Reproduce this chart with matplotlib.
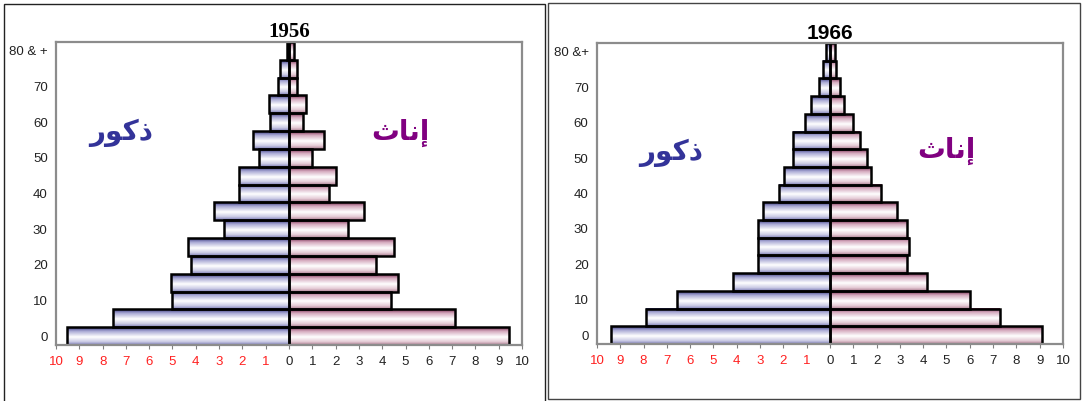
import numpy as np
import matplotlib.pyplot as plt
from matplotlib.colors import LinearSegmentedColormap
from matplotlib.patches import Rectangle

plt.rcParams['font.family'] = ['Liberation Sans', 'DejaVu Sans']

# age groups 0-4 ... 75-79, 80+ (percent of population)
age_groups = list(range(17))
age_ticks = [0, 2, 4, 6, 8, 10, 12, 14, 16]
age_labels_1956 = ['0', '10', '20', '30', '40', '50', '60', '70', '80 & +']
age_labels_1966 = ['0', '10', '20', '30', '40', '50', '60', '70', '80 &+']

males_1956 = [9.52, 7.54, 5.03, 5.06, 4.21, 4.33, 2.80, 3.22, 2.13,
              2.13, 1.30, 1.55, 0.80, 0.86, 0.46, 0.37, 0.10]
females_1956 = [9.44, 7.12, 4.38, 4.68, 3.75, 4.50, 2.53, 3.22, 1.71,
                2.03, 1.00, 1.50, 0.60, 0.74, 0.36, 0.33, 0.20]
males_1966 = [9.40, 7.88, 6.57, 4.16, 3.07, 3.07, 3.07, 2.88, 2.18,
              1.97, 1.57, 1.60, 1.07, 0.81, 0.49, 0.29, 0.19]
females_1966 = [9.09, 7.29, 6.01, 4.18, 3.29, 3.40, 3.29, 2.88, 2.19,
                1.75, 1.57, 1.28, 1.01, 0.60, 0.41, 0.25, 0.22]

x_ticks = list(range(-10, 11))

# arabic labels written in presentation forms (visual order)
male_label = '\uFEAD\uFEEE\uFEDB\uFEAB'     # ذكور
female_label = '\uFE99\uFE8E\uFEE7\uFE87'   # إناث

male_cmap = LinearSegmentedColormap.from_list('m', [
    (0.0, (0.22, 0.22, 0.50)), (0.22, (0.66, 0.66, 0.83)),
    (0.55, (1, 1, 1)), (0.82, (0.80, 0.80, 0.90)), (1.0, (0.50, 0.50, 0.72))])
female_cmap = LinearSegmentedColormap.from_list('f', [
    (0.0, (0.46, 0.16, 0.30)), (0.22, (0.83, 0.66, 0.74)),
    (0.55, (1, 1, 1)), (0.82, (0.90, 0.80, 0.84)), (1.0, (0.68, 0.50, 0.58))])
grad = np.linspace(0, 1, 40).reshape(-1, 1)


def pyramid(ax, males, females, title, title_font, ylabels, mpos, fpos):
    for y, m, f in zip(age_groups, males, females):
        ax.imshow(grad, cmap=male_cmap, extent=(-m, 0, y - 0.5, y + 0.5),
                  aspect='auto', zorder=1, interpolation='bilinear')
        ax.imshow(grad, cmap=female_cmap, extent=(0, f, y - 0.5, y + 0.5),
                  aspect='auto', zorder=1, interpolation='bilinear')
    neg = [-v for v in males]
    ax.barh(age_groups, neg, height=1, facecolor='none',
            edgecolor='black', linewidth=1.8, zorder=2)
    ax.barh(age_groups, females, height=1, facecolor='none',
            edgecolor='black', linewidth=1.8, zorder=2)
    ax.set_xlim(-10, 10)
    ax.set_ylim(-0.5, 16.5)
    ax.set_xticks(x_ticks)
    ax.set_xticklabels([str(abs(t)) for t in x_ticks], fontsize=9.5)
    for t, lab in zip(x_ticks, ax.get_xticklabels()):
        lab.set_color('#ff2020' if t < 0 else '#222222')
    ax.set_yticks(age_ticks)
    ax.set_yticklabels(ylabels, fontsize=9.5, color='#222222')
    ax.tick_params(axis='y', length=0, pad=6)
    ax.tick_params(axis='x', length=3, color='#808080', pad=5)
    for s in ax.spines.values():
        s.set_color('#8c8c8c')
        s.set_linewidth(1.6)
    ax.set_title(title, fontfamily=title_font, fontweight='bold',
                 fontsize=15, pad=3)
    ax.text(mpos[0], mpos[1], male_label, color='#333399',
            fontsize=20, fontweight='bold', family=['DejaVu Sans'],
            ha='center', va='center')
    ax.text(fpos[0], fpos[1], female_label, color='#800080',
            fontsize=20, fontweight='bold', family=['DejaVu Sans'],
            ha='center', va='center')


fig = plt.figure(figsize=(10.83, 4.01), dpi=100)
ax1 = fig.add_axes([0.0517, 0.1397, 0.4303, 0.7556])
ax2 = fig.add_axes([0.5512, 0.1421, 0.4303, 0.7506])

pyramid(ax1, males_1956, females_1956, '1956', 'Liberation Serif',
        age_labels_1956, (-7.2, 11.4), (4.8, 11.4))
pyramid(ax2, males_1966, females_1966, '1966', 'Liberation Sans',
        age_labels_1966, (-6.8, 10.3), (5.0, 10.4))

# panel frames
fig.patches.append(Rectangle((4 / 1083, -0.01), 541 / 1083, 1.0,
                             transform=fig.transFigure, fill=False,
                             edgecolor='#222222', linewidth=1))
fig.patches.append(Rectangle((548 / 1083, 2 / 401), 532 / 1083, 396 / 401,
                             transform=fig.transFigure, fill=False,
                             edgecolor='#444444', linewidth=1))

fig.savefig('out.png', dpi=100)
